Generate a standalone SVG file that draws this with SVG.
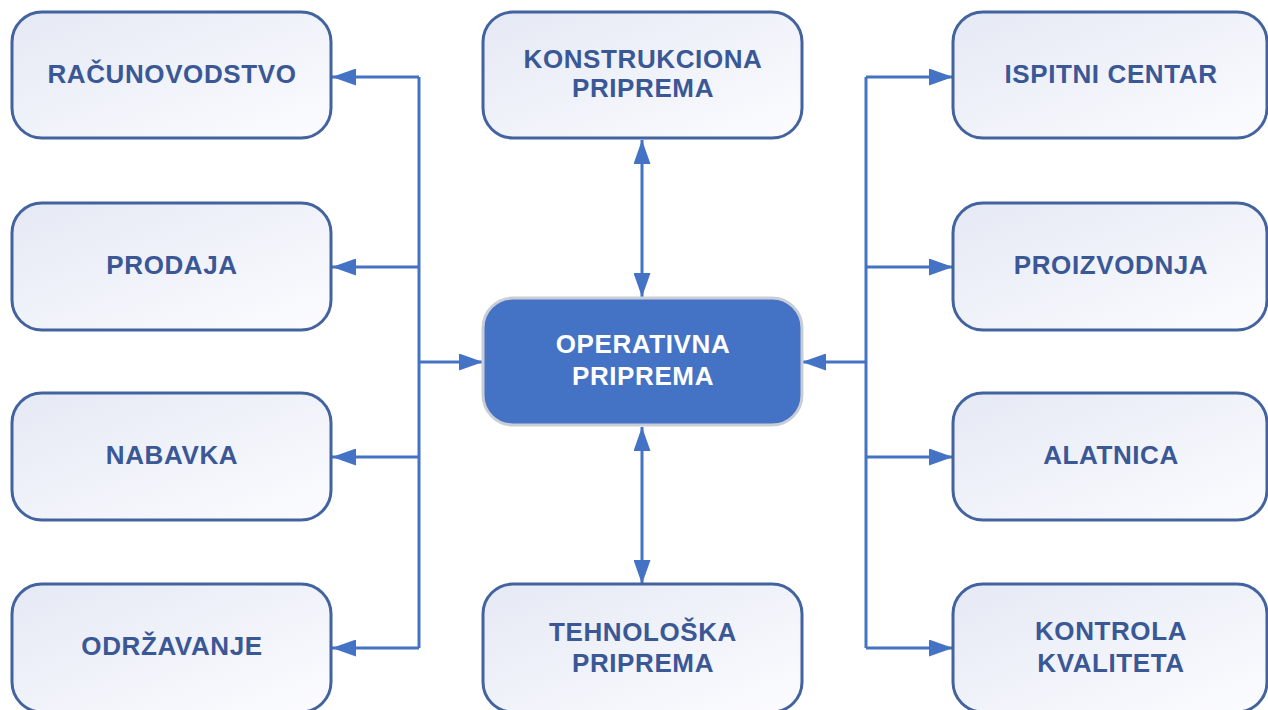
<svg xmlns="http://www.w3.org/2000/svg" width="1268" height="710" viewBox="0 0 1268 710">
<defs>
<linearGradient id="g" x1="0" y1="0" x2="1" y2="1">
<stop offset="0" stop-color="#e5e9f4"/>
<stop offset="1" stop-color="#fcfcff"/>
</linearGradient>
<marker id="ah" viewBox="0 0 24 17" refX="24" refY="8.5" markerWidth="24" markerHeight="17" markerUnits="userSpaceOnUse" orient="auto-start-reverse">
<path d="M0,0 L24,8.5 L0,17 z" fill="#4472c4"/>
</marker>
<style>
.box{fill:url(#g);stroke:#43639f;stroke-width:3}
.main{fill:#4472c4;stroke:#c9cdd5;stroke-width:3}
.t{font-family:"Liberation Sans",Arial,sans-serif;font-weight:bold;font-size:26px;letter-spacing:0.6px;fill:#3a5796;text-anchor:middle}
.w{fill:#ffffff}
.c{fill:none;stroke:#4472c4;stroke-width:3}
</style>
</defs>
<rect width="1268" height="710" fill="#ffffff"/>
<g id="connectors">
<path class="c" d="M419,77 V648"/>
<path class="c" d="M419,77 H332" marker-end="url(#ah)"/>
<path class="c" d="M419,267 H332" marker-end="url(#ah)"/>
<path class="c" d="M419,457 H332" marker-end="url(#ah)"/>
<path class="c" d="M419,648 H332" marker-end="url(#ah)"/>
<path class="c" d="M419,362 H483" marker-end="url(#ah)"/>
<path class="c" d="M866,77 V648"/>
<path class="c" d="M866,77 H953" marker-end="url(#ah)"/>
<path class="c" d="M866,267 H953" marker-end="url(#ah)"/>
<path class="c" d="M866,457 H953" marker-end="url(#ah)"/>
<path class="c" d="M866,648 H953" marker-end="url(#ah)"/>
<path class="c" d="M866,362 H802" marker-end="url(#ah)"/>
<path class="c" d="M642,140 V297" marker-start="url(#ah)" marker-end="url(#ah)"/>
<path class="c" d="M642,427 V584" marker-start="url(#ah)" marker-end="url(#ah)"/>
</g>
<g id="racunovodstvo"><rect class="box" x="12" y="12" width="319" height="126" rx="30"/><text class="t" x="172" y="83">RAČUNOVODSTVO</text></g>
<g id="prodaja"><rect class="box" x="12" y="203" width="319" height="127" rx="30"/><text class="t" x="172" y="274">PRODAJA</text></g>
<g id="nabavka"><rect class="box" x="12" y="393" width="319" height="127" rx="30"/><text class="t" x="172" y="464">NABAVKA</text></g>
<g id="odrzavanje"><rect class="box" x="12" y="584" width="319" height="128" rx="30"/><text class="t" x="172" y="655">ODRŽAVANJE</text></g>
<g id="konstrukciona"><rect class="box" x="483" y="12" width="319" height="126" rx="30"/><text class="t" x="643" y="68">KONSTRUKCIONA</text><text class="t" x="643" y="97">PRIPREMA</text></g>
<g id="operativna"><rect class="main" x="483" y="298" width="319" height="127" rx="30"/><text class="t w" x="643" y="353">OPERATIVNA</text><text class="t w" x="643" y="385">PRIPREMA</text></g>
<g id="tehnoloska"><rect class="box" x="483" y="584" width="319" height="128" rx="30"/><text class="t" x="643" y="641">TEHNOLOŠKA</text><text class="t" x="643" y="672">PRIPREMA</text></g>
<g id="ispitni"><rect class="box" x="953" y="12" width="314" height="126" rx="30"/><text class="t" x="1111" y="83">ISPITNI CENTAR</text></g>
<g id="proizvodnja"><rect class="box" x="953" y="203" width="314" height="127" rx="30"/><text class="t" x="1111" y="274">PROIZVODNJA</text></g>
<g id="alatnica"><rect class="box" x="953" y="393" width="314" height="127" rx="30"/><text class="t" x="1111" y="464">ALATNICA</text></g>
<g id="kontrola"><rect class="box" x="953" y="584" width="314" height="128" rx="30"/><text class="t" x="1111" y="640">KONTROLA</text><text class="t" x="1111" y="672">KVALITETA</text></g>
</svg>
